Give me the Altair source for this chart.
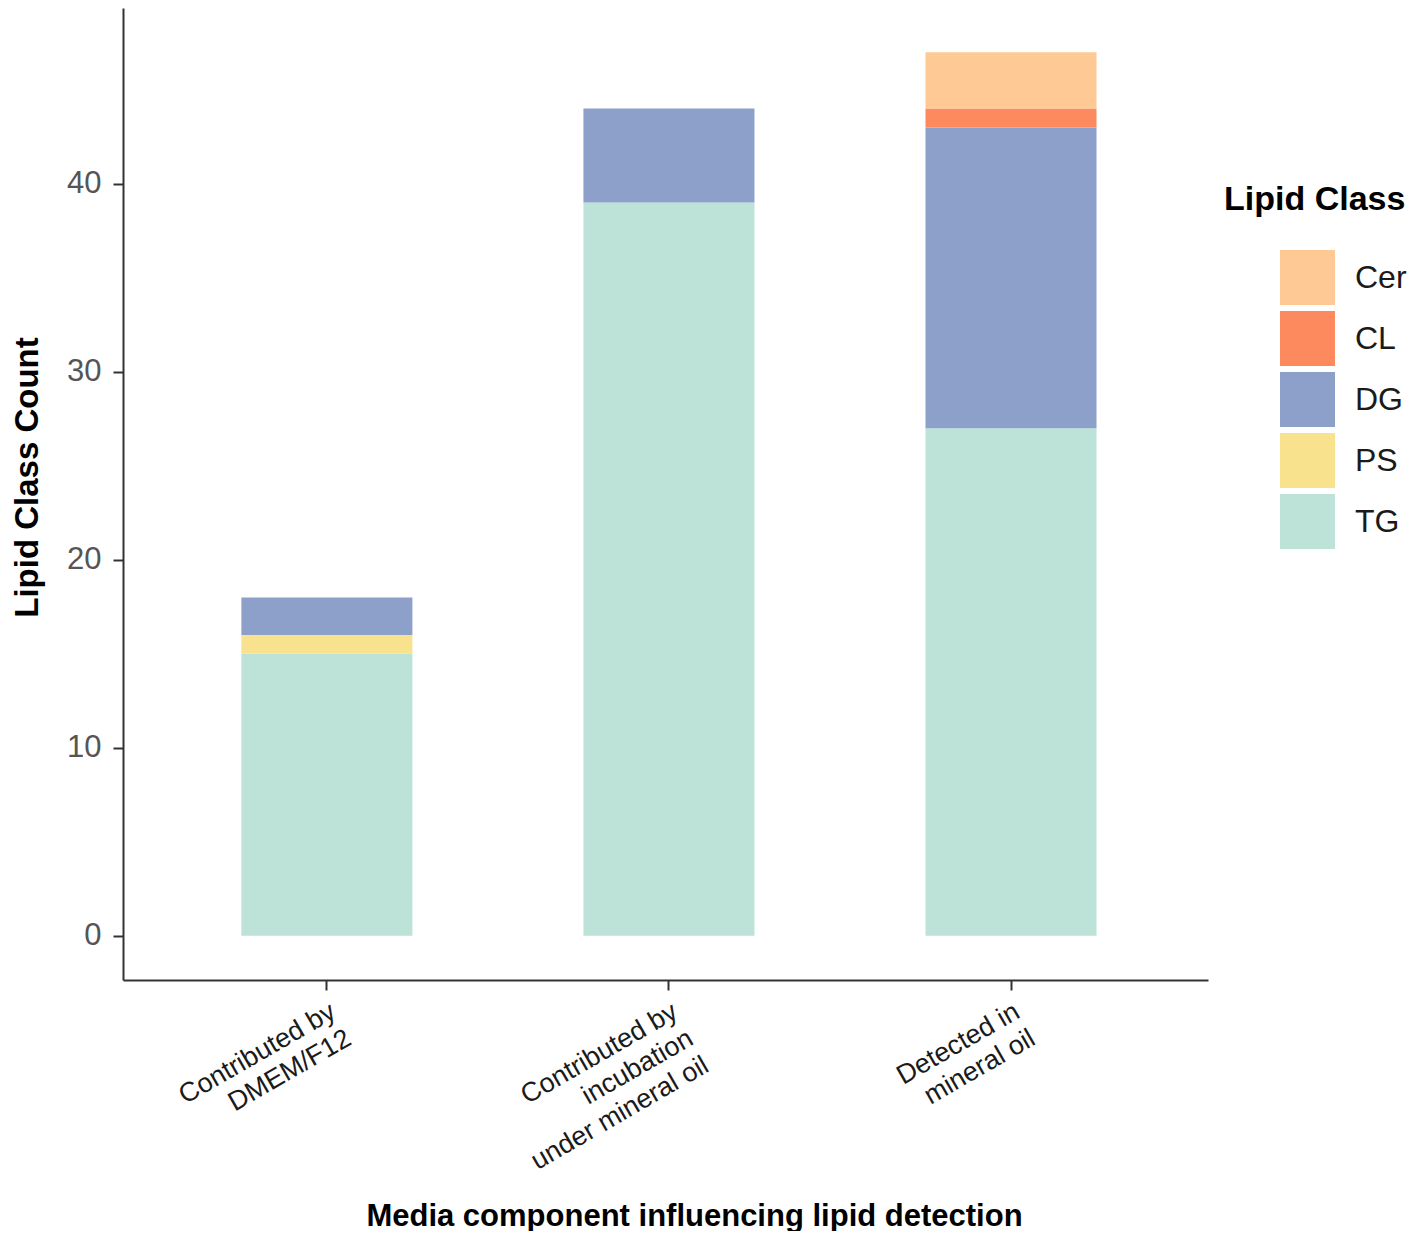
import altair as alt
import pandas as pd

categories = ["Contributed by|DMEM/F12",
              "Contributed by|incubation|under mineral oil",
              "Detected in|mineral oil"]
classes = ["Cer", "CL", "DG", "PS", "TG"]
colors = ["#FEC994", "#FC8A5E", "#8DA0CA", "#F8E28E", "#BDE3D8"]
stack_rank = {"TG": 0, "PS": 1, "DG": 2, "CL": 3, "Cer": 4}

tg = [15, 39, 27]
ps = [1, 0, 0]
dg = [2, 5, 16]
cl = [0, 0, 1]
cer = [0, 0, 3]

rows = []
for i, c in enumerate(categories):
    for name, vals in [("TG", tg), ("PS", ps), ("DG", dg), ("CL", cl), ("Cer", cer)]:
        if vals[i] > 0:
            rows.append({"cat": c, "cls": name, "count": vals[i], "rank": stack_rank[name]})
df = pd.DataFrame(rows)

FONT = "Liberation Sans"

chart = alt.Chart(df).mark_bar(strokeWidth=0).encode(
    x=alt.X("cat:N", sort=categories,
            scale=alt.Scale(paddingInner=0.5, paddingOuter=0.336, align=0.515),
            axis=alt.Axis(title="Media component influencing lipid detection",
                          labelAngle=-30, labelAlign="right", labelBaseline="top",
                          labelExpr="split(datum.label, '|')", labelLimit=600,
                          labelFontSize=27, labelColor="#1a1a1a", labelLineHeight=31,
                          labelPadding=8, tickSize=10, tickWidth=2, tickColor="#333333",
                          domainColor="#333333", domainWidth=2,
                          titleFontSize=31, titleFontWeight="bold", titleColor="#000000",
                          titleX=571, titleY=236, titleBaseline="middle",
                          titleAnchor="start", titleAlign="center", titleLimit=1200)),
    y=alt.Y("sum(count):Q", stack="zero",
            scale=alt.Scale(domain=[-2.35, 49.35], nice=False, zero=False),
            axis=alt.Axis(title="Lipid Class Count", values=[0, 10, 20, 30, 40],
                          labelFontSize=31, labelColor="#555555", labelPadding=12,
                          tickSize=10, tickWidth=2, tickColor="#333333",
                          domainColor="#333333", domainWidth=2, grid=False,
                          titleFontSize=33, titleFontWeight="bold", titleColor="#000000",
                          titleX=-96, titleY=469, titleBaseline="middle",
                          titleAnchor="start", titleAlign="center", titleAngle=270,
                          titleLimit=1000)),
    color=alt.Color("cls:N",
                    scale=alt.Scale(domain=classes, range=colors),
                    legend=alt.Legend(title="Lipid Class", orient="none",
                                      legendX=1101, legendY=175,
                                      titleFontSize=34, titleFontWeight="bold",
                                      titleColor="#000000", titlePadding=33,
                                      titleLimit=400, labelLimit=300,
                                      symbolType="square", symbolSize=3025,
                                      symbolStrokeWidth=0, symbolOffset=56,
                                      labelFontSize=32, labelColor="#1a1a1a",
                                      labelOffset=20, rowPadding=6)),
    order=alt.Order("rank:Q", sort="ascending"),
).properties(
    width=1085, height=972,
    autosize=alt.AutoSizeParams(type="none"),
    padding={"left": 115, "top": 0, "right": 201, "bottom": 251},
).configure(font=FONT).configure_view(stroke=None)

chart.save("out.html", embed_options={"renderer": "svg", "actions": False})
